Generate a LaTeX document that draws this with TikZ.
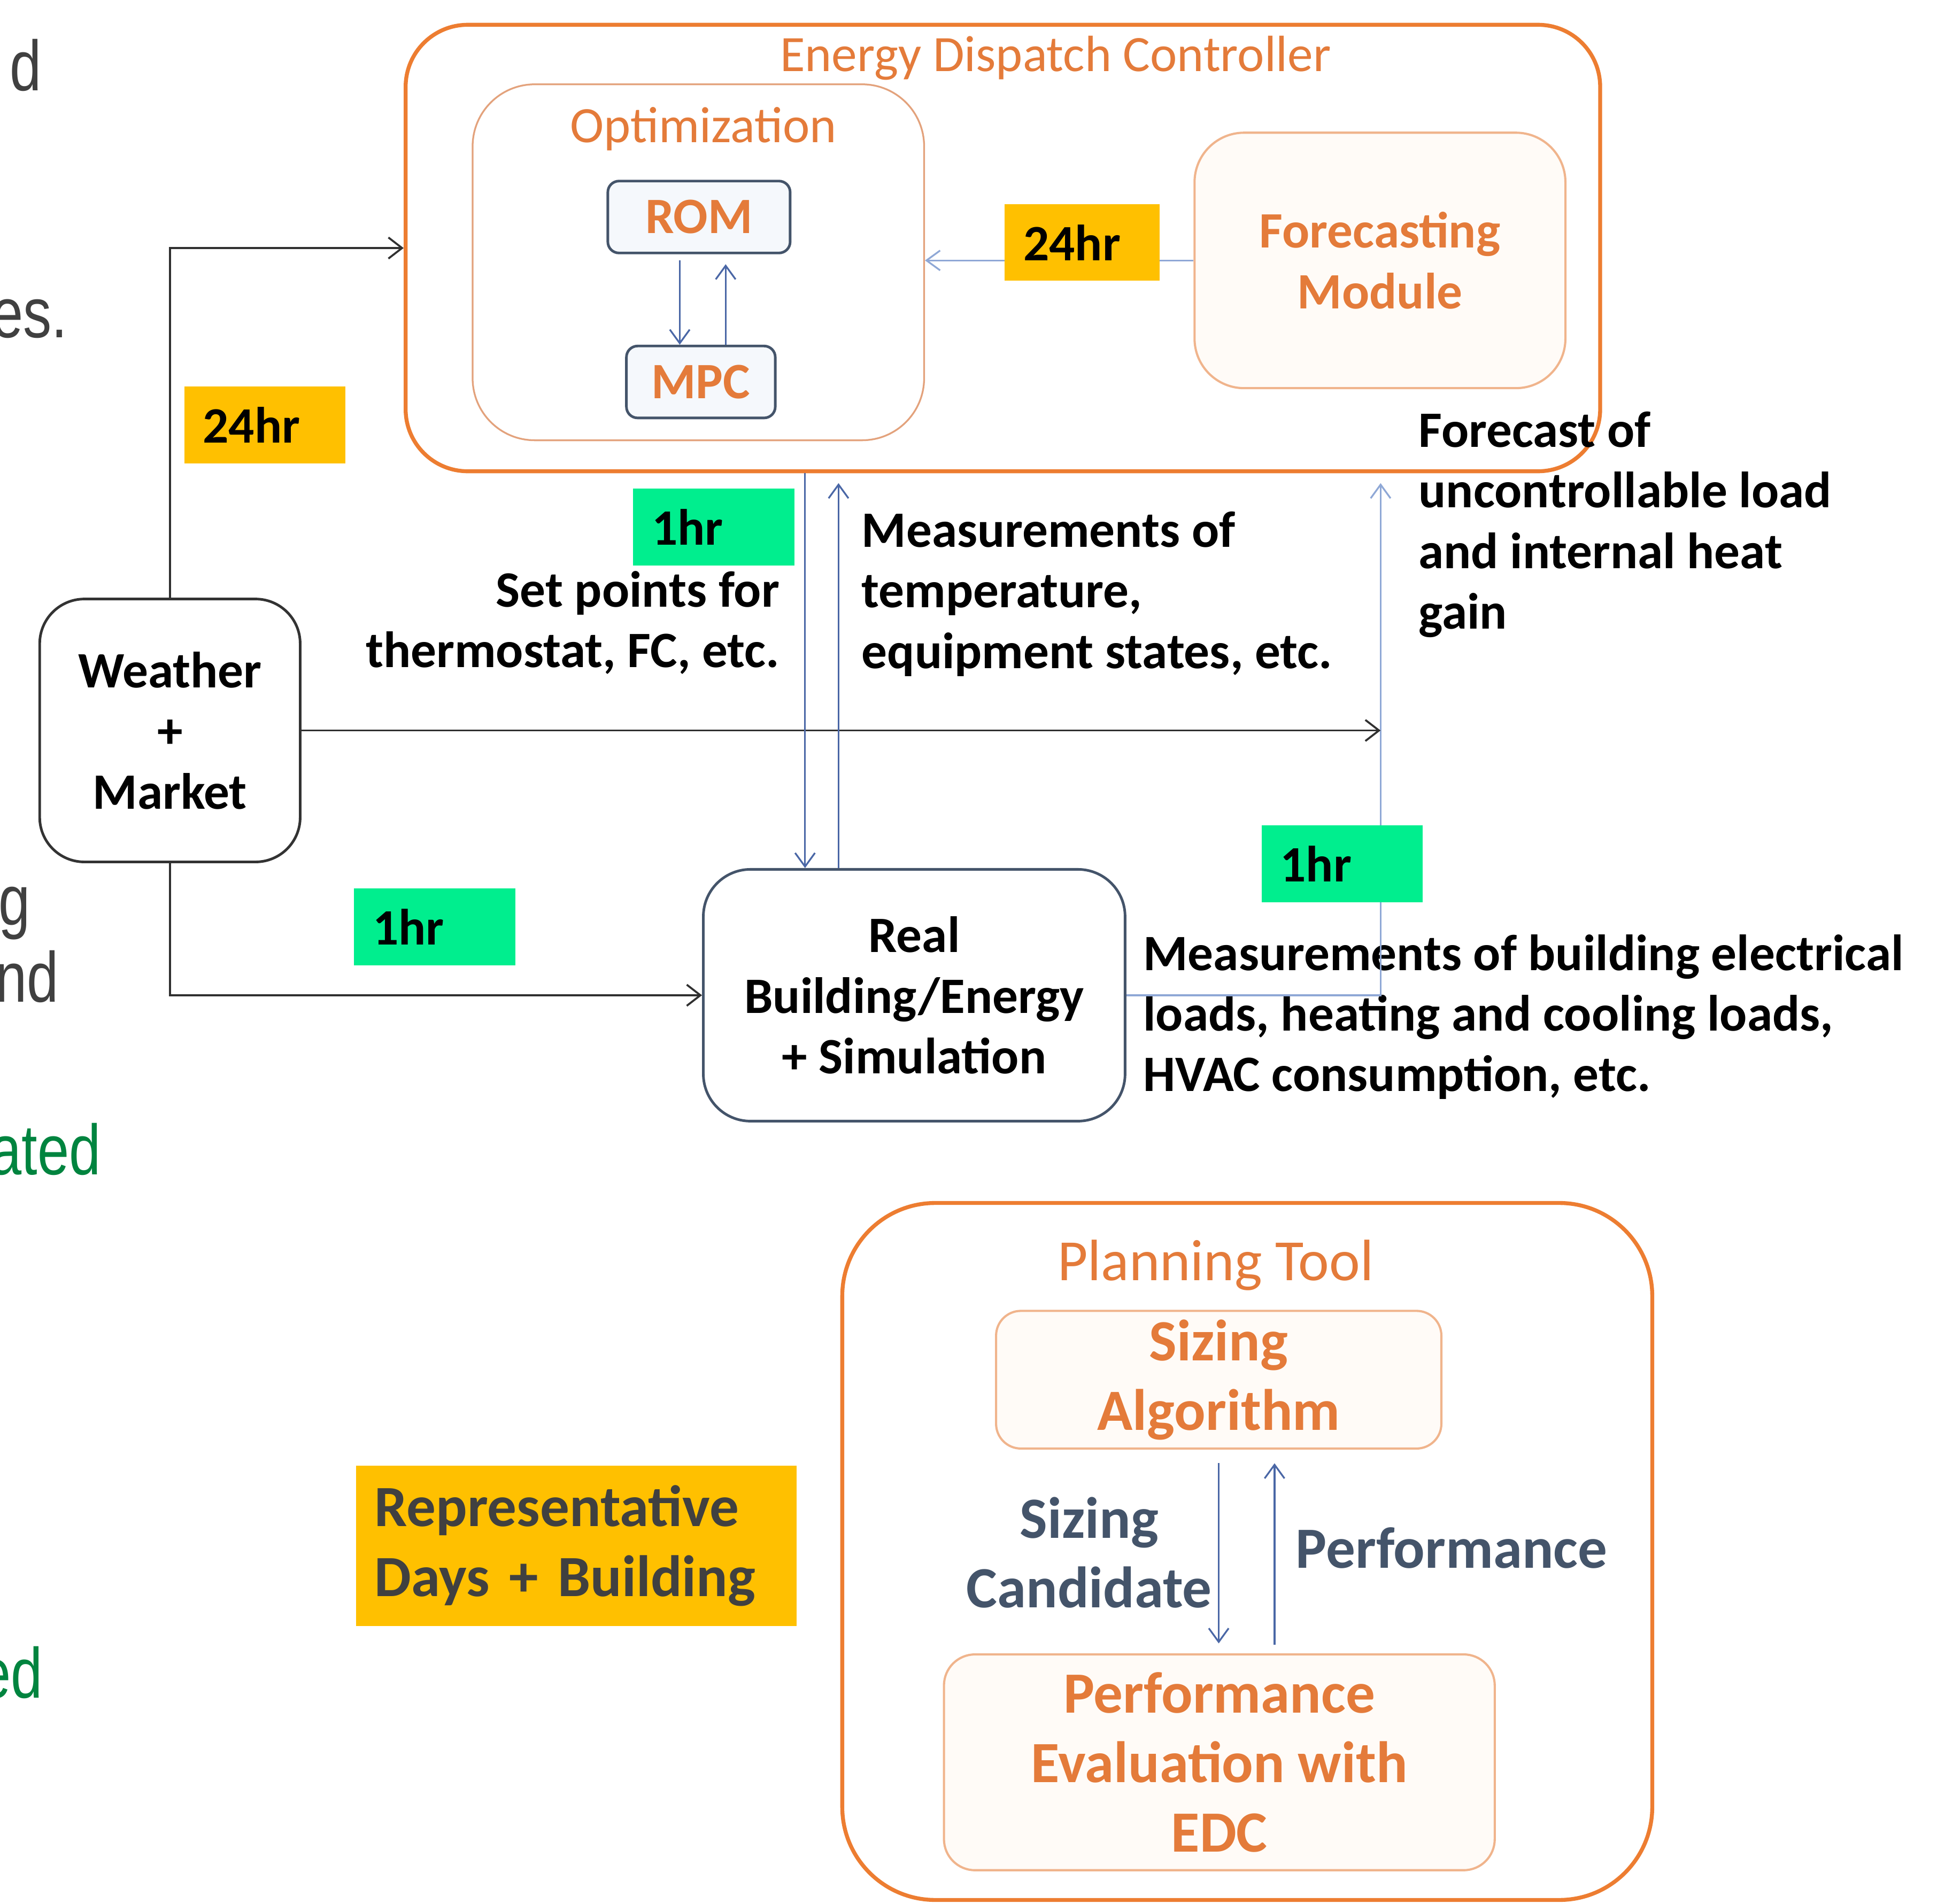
\documentclass[tikz,border=0pt]{standalone}
\usepackage{fontspec}
\setmainfont{Carlito}
\newfontfamily\slidefont[FakeStretch=0.8]{Liberation Sans}
\usepackage{tikz}
\usetikzlibrary{arrows.meta,calc}
\definecolor{edcorange}{HTML}{ED7D31}
\definecolor{ortext}{HTML}{E47B3A}
\definecolor{panelline}{HTML}{E3A27C}
\definecolor{softline}{HTML}{F0B48C}
\definecolor{softfill}{HTML}{FFFBF7}
\definecolor{slate}{HTML}{44546A}
\definecolor{modfill}{HTML}{F5F8FC}
\definecolor{wxline}{HTML}{333333}
\definecolor{arrowdark}{HTML}{303030}
\definecolor{arrowblue}{HTML}{4A67A6}
\definecolor{arrowlight}{HTML}{8FA8D6}
\definecolor{tagyellow}{HTML}{FFC000}
\definecolor{taggreen}{HTML}{00EE8E}
\definecolor{slidegray}{HTML}{404040}
\definecolor{slidegreen}{HTML}{00843F}
\newcommand\diagfont{\fontsize{11.7}{13.9}\selectfont}
\newcommand\planfont{\fontsize{13.4}{16}\selectfont}

\begin{document}
\begin{tikzpicture}[
  x=0.1mm,y=-0.1mm,
  container/.style={draw=edcorange,line width=0.9pt,rounded corners=5mm},
  panel/.style={draw=panelline,line width=0.4pt,rounded corners=5mm},
  module/.style={draw=slate,fill=modfill,line width=0.6pt,rounded corners=0.9mm,
    text=ortext,font=\diagfont\bfseries},
  softbox/.style={draw=softline,fill=softfill,line width=0.5pt,align=center,
    text=ortext,inner sep=1pt},
  plainbox/.style={draw=#1,fill=white,line width=0.6pt,rounded corners=3.6mm,
    align=center,font=\diagfont\bfseries},
  tag/.style={fill=#1,font=\diagfont\bfseries,text width=10mm,inner xsep=1.5mm,
    minimum height=6.2mm,align=left},
  note/.style={inner sep=0pt,font=\diagfont\bfseries},
  title/.style={text=ortext,font=\diagfont,inner sep=0pt},
  frag/.style={font=\slidefont\fontsize{16.3}{19}\selectfont,anchor=base east,inner sep=0pt},
  darkflow/.style={draw=arrowdark,line width=0.45pt,-{Straight Barb[length=1.1mm,width=1.7mm]}},
  blueflow/.style={draw=arrowblue,line width=0.4pt,-{Straight Barb[length=1.1mm,width=1.6mm]}},
  lightflow/.style={blueflow,draw=arrowlight}
]
\useasboundingbox (0,0) rectangle (1568,1535);
\fill[white] (0,0) rectangle (1568,1535);
\clip (0,0) rectangle (1568,1535);

% slide text cut by the crop
\node[frag,text=slidegray] (fragA) at (34,73) {d};
\node[frag,text=slidegray] (fragB) at (55,272) {es.};
\node[frag,text=slidegray] (fragC) at (25,746) {g};
\node[frag,text=slidegray] (fragD) at (48,808) {nd};
\node[frag,text=slidegreen] (fragE) at (82,947) {ated};
\node[frag,text=slidegreen] (fragF) at (35,1369) {ed};

% energy dispatch controller
\node[container,minimum width=96.3mm,minimum height=36mm] (edc) at (808.5,200) {};
\node[title] (edctitle) at (851,47) {Energy Dispatch Controller};
\node[panel,minimum width=36.4mm,minimum height=28.7mm] (opt) at (563,211.5) {};
\node[title] (opttitle) at (567,104) {Optimization};
\node[module,minimum width=14.7mm,minimum height=5.8mm] (rom) at (563.5,175) {ROM};
\node[module,minimum width=12mm,minimum height=5.8mm] (mpc) at (565,308) {MPC};
\node[softbox,rounded corners=4mm,minimum width=29.9mm,minimum height=20.6mm,
  font=\diagfont\bfseries] (fcast) at (1112.5,210) {Forecasting\\Module};

% inputs and plant
\node[plainbox=wxline,minimum width=21mm,minimum height=21.2mm] (weather) at (137,589) {Weather\\+\\Market};
\node[plainbox=slate,rounded corners=3.8mm,minimum width=34mm,minimum height=20.3mm] (building) at (737,802.5)
  {Real\\Building/Energy\\+ Simulation};

\node[note,anchor=east,align=right] (setlbl) at (629,502) {Set points for\\thermostat, FC, etc.};
\node[note,anchor=west,align=left] (measlbl) at (694,479) {Measurements of\\temperature,\\equipment states, etc.};
\node[note,anchor=west,align=left] (fclbl) at (1143,423) {Forecast of\\uncontrollable load\\and internal heat\\gain};
\node[note,anchor=west,align=left] (bldlbl) at (921,820)
  {Measurements of building electrical\\loads, heating and cooling loads,\\HVAC consumption, etc.};

% planning tool
\node[container,rounded corners=7.5mm,minimum width=65.3mm,minimum height=56.2mm] (plan) at (1005.5,1251) {};
\node[title,font=\planfont] (plantitle) at (980,1020) {Planning Tool};
\node[softbox,rounded corners=2mm,minimum width=35.9mm,minimum height=11.1mm,
  font=\planfont\bfseries] (sizing) at (982.5,1112.5) {Sizing\\Algorithm};
\node[softbox,rounded corners=2.5mm,minimum width=44.4mm,minimum height=17.4mm,
  font=\planfont\bfseries] (perf) at (983,1421) {Performance\\Evaluation with\\EDC};
\node[note,font=\planfont\bfseries,text=slate,align=center] (candlbl) at (878,1252) {Sizing\\Candidate};
\node[note,font=\planfont\bfseries,text=slate,anchor=west] (perflbl) at (1044,1248) {Performance};
\node[tag=tagyellow,text width=32.5mm,minimum height=12.9mm,font=\planfont\bfseries,
  text=slidegray] (repdays) at (464.5,1246.5) {Representative\\Days + Building};

% connectors
\draw[blueflow] ([xshift=-1.55mm,yshift=-0.5mm]rom.south) -- ([xshift=-1.55mm]rom.south |- mpc.north);
\draw[blueflow] ([xshift=2.15mm]rom.south |- mpc.north) -- ([xshift=2.15mm,yshift=-0.8mm]rom.south);
\draw[lightflow] (fcast.west) -- (fcast.west -| opt.east);
\draw[darkflow] (weather.north) |- (edc.west);
\draw[darkflow] (weather.south) |- (building.west);
\coordinate (riser) at ([xshift=30.45mm]edc.south);
\draw[lightflow] (building.east) -| ([yshift=-0.8mm]riser);
\draw[darkflow] (weather.east) -- (weather.east -| riser);
\draw[blueflow] ([xshift=-8.8mm]building.north |- edc.south) -- ([xshift=-8.8mm]building.north);
\draw[blueflow] ([xshift=-6.1mm]building.north) -- ([xshift=-6.1mm,yshift=-0.8mm]building.north |- edc.south);
\draw[blueflow] ([yshift=-1.1mm]sizing.south) -- ([yshift=0.8mm]sizing.south |- perf.north);
\draw[blueflow] ([xshift=4.5mm,yshift=0.7mm]sizing.south |- perf.north) -- ([xshift=4.5mm,yshift=-1.1mm]sizing.south);

% rate tags sit on top of the lines
\node[tag=tagyellow] (hrdaily) at (213.5,342.5) {24hr};
\node[tag=tagyellow,text width=9.5mm] (hrfcst) at (872.5,195.5) {24hr};
\node[tag=taggreen] (hrcmd) at (575.5,425) {1hr};
\node[tag=taggreen] (hrwb) at (350.5,747.5) {1hr};
\node[tag=taggreen] (hrmeas) at (1082,696.5) {1hr};
\end{tikzpicture}
\end{document}
